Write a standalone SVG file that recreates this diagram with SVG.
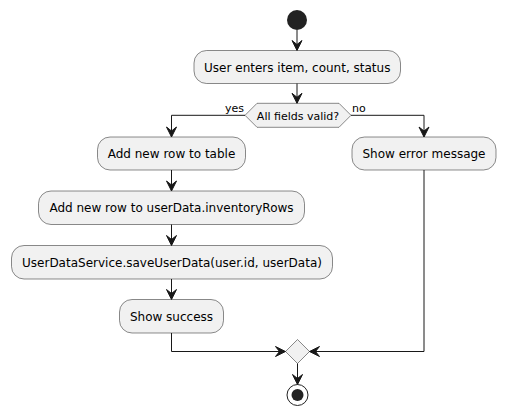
<svg xmlns="http://www.w3.org/2000/svg" width="505" height="415" viewBox="0 0 505 415">
<defs>
<style>
.box{fill:#F1F1F1;stroke:#181818;stroke-width:0.5}
.t{font-family:"DejaVu Sans",sans-serif;font-size:12px;fill:#000}
.l{font-family:"DejaVu Sans",sans-serif;font-size:11px;fill:#000}
.c{fill:none;stroke:#181818;stroke-width:1}
.ah{fill:#181818;stroke:#181818;stroke-width:1}
</style>
</defs>
<rect width="505" height="415" fill="#FFFFFF"/>
<g id="start"><circle cx="297" cy="20" r="10" fill="#222222"/></g>
<g id="n1"><rect class="box" x="194" y="50.5" width="206.5" height="33" rx="12.5"/><text class="t" x="297.25" y="71.5" text-anchor="middle">User enters item, count, status</text></g>
<g id="d1"><polygon class="box" points="245,115.3 257,103.3 339,103.3 351,115.3 339,127.3 257,127.3"/><text class="l" x="298" y="119.5" text-anchor="middle">All fields valid?</text></g>
<g id="n2"><rect class="box" x="97.5" y="137" width="148" height="33" rx="12.5"/><text class="t" x="171.5" y="158" text-anchor="middle">Add new row to table</text></g>
<g id="n3"><rect class="box" x="352" y="137" width="144" height="33" rx="12.5"/><text class="t" x="424" y="158" text-anchor="middle">Show error message</text></g>
<g id="n4"><rect class="box" x="38.5" y="191" width="266" height="33.5" rx="12.5"/><text class="t" x="171.5" y="212" text-anchor="middle">Add new row to userData.inventoryRows</text></g>
<g id="n5"><rect class="box" x="11.5" y="245.5" width="321" height="33.5" rx="12.5"/><text class="t" x="172" y="266.5" text-anchor="middle">UserDataService.saveUserData(user.id, userData)</text></g>
<g id="n6"><rect class="box" x="119.5" y="299.5" width="104" height="33.5" rx="12.5"/><text class="t" x="171.5" y="320.5" text-anchor="middle">Show success</text></g>
<g id="merge"><polygon class="box" points="297.5,339.5 309.5,351.5 297.5,363.5 285.5,351.5"/></g>
<g id="end"><circle cx="297.5" cy="395" r="10.5" fill="none" stroke="#222222" stroke-width="1"/><circle cx="297.5" cy="395" r="6" fill="#222222"/></g>
<g id="connectors">
<line class="c" x1="297" y1="30" x2="297" y2="50"/><polygon class="ah" points="292,40.5 297,50.5 302,40.5 297,44.5"/>
<line class="c" x1="297" y1="83.5" x2="297" y2="103"/><polygon class="ah" points="292,93.3 297,103.3 302,93.3 297,97.3"/>
<polyline class="c" points="245,115.3 171.5,115.3 171.5,136.5"/><polygon class="ah" points="166.5,127 171.5,137 176.5,127 171.5,131"/>
<text class="l" x="225" y="112">yes</text>
<polyline class="c" points="351,115.3 424,115.3 424,136.5"/><polygon class="ah" points="419,127 424,137 429,127 424,131"/>
<text class="l" x="352" y="112">no</text>
<line class="c" x1="171.5" y1="170" x2="171.5" y2="190.5"/><polygon class="ah" points="166.5,181 171.5,191 176.5,181 171.5,185"/>
<line class="c" x1="171.5" y1="224.5" x2="171.5" y2="245"/><polygon class="ah" points="166.5,235.5 171.5,245.5 176.5,235.5 171.5,239.5"/>
<line class="c" x1="171.5" y1="279" x2="171.5" y2="299"/><polygon class="ah" points="166.5,289.5 171.5,299.5 176.5,289.5 171.5,293.5"/>
<polyline class="c" points="171.5,333 171.5,351.5 285,351.5"/><polygon class="ah" points="275.5,346.5 285.5,351.5 275.5,356.5 279.5,351.5"/>
<polyline class="c" points="424,170 424,351.5 310,351.5"/><polygon class="ah" points="319.5,346.5 309.5,351.5 319.5,356.5 315.5,351.5"/>
<line class="c" x1="297.5" y1="363.5" x2="297.5" y2="384"/><polygon class="ah" points="292.5,374.5 297.5,384.5 302.5,374.5 297.5,378.5"/>
</g>
</svg>
